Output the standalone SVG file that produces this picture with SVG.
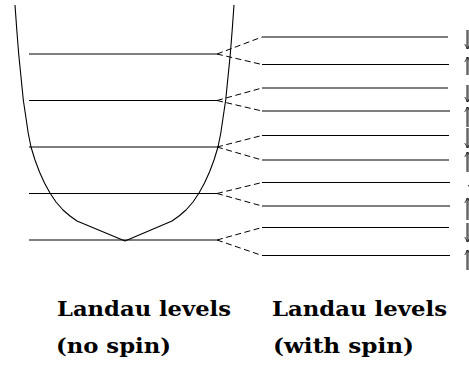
<svg xmlns="http://www.w3.org/2000/svg" width="469" height="366" viewBox="0 0 469 366">
<style>
.lvl{stroke:#000;stroke-width:1.1;fill:none}
.wall{stroke:#000;stroke-width:1.1;fill:none;stroke-linejoin:round}
.dash{stroke:#000;stroke-width:1;stroke-dasharray:6,3.5;fill:none}
.spin{stroke:#666;stroke-width:2.5;fill:none}
.lbl{font-family:"DejaVu Serif","Liberation Serif",serif;font-weight:bold;font-size:21px;fill:#000}
</style>
<defs>
<marker id="ah" viewBox="0 0 10 10" refX="9" refY="5" markerUnits="userSpaceOnUse" markerWidth="6" markerHeight="8" orient="auto">
<path d="M0,0 L9,5 L0,10" fill="none" stroke="#000" stroke-width="1.2"/>
</marker>
</defs>
<rect width="469" height="366" fill="#fff"/>
<g id="potential">
<polyline class="wall" points="15,5 16.8,30 18.7,54 21,77 23.3,100 26,118 28.2,133 31,147 35,160 39.5,172 44.5,183 50,193 56,202 63,210 70,216 77,221 125,241 172,221 179,216 186,210 193,202 199,193 204.5,183 209.5,172 214,160 218,147 220.8,133 223,118 225.7,100 228,77 230.3,54 232.2,30 234,5"/>
</g>
<g id="levels-nospin">
<g id="n0"><line class="lvl" x1="29" y1="240" x2="217" y2="240"/></g>
<g id="n1"><line class="lvl" x1="29" y1="193.5" x2="217" y2="193.5"/></g>
<g id="n2"><line class="lvl" x1="29" y1="147" x2="217" y2="147"/></g>
<g id="n3"><line class="lvl" x1="29" y1="100.5" x2="217" y2="100.5"/></g>
<g id="n4"><line class="lvl" x1="29" y1="54" x2="217" y2="54"/></g>
</g>
<g id="levels-spin">
<g id="s4u"><line class="lvl" x1="262" y1="37" x2="448" y2="37"/></g>
<g id="s4d"><line class="lvl" x1="262" y1="64.5" x2="449" y2="64.5"/></g>
<g id="s3u"><line class="lvl" x1="262" y1="88" x2="448" y2="88"/></g>
<g id="s3d"><line class="lvl" x1="262" y1="111" x2="450" y2="111"/></g>
<g id="s2u"><line class="lvl" x1="262" y1="135.5" x2="449" y2="135.5"/></g>
<g id="s2d"><line class="lvl" x1="262" y1="160" x2="449" y2="160"/></g>
<g id="s1u"><line class="lvl" x1="262" y1="182.5" x2="450" y2="182.5"/></g>
<g id="s1d"><line class="lvl" x1="262" y1="206" x2="450" y2="206"/></g>
<g id="s0u"><line class="lvl" x1="262" y1="227.5" x2="449" y2="227.5"/></g>
<g id="s0d"><line class="lvl" x1="262" y1="255.5" x2="450" y2="255.5"/></g>
</g>
<g id="connectors">
<line class="dash" x1="217" y1="54" x2="262" y2="37"/>
<line class="dash" x1="217" y1="54" x2="262" y2="64.5"/>
<line class="dash" x1="217" y1="100.5" x2="262" y2="88"/>
<line class="dash" x1="217" y1="100.5" x2="262" y2="111"/>
<line class="dash" x1="217" y1="147" x2="262" y2="135.5"/>
<line class="dash" x1="217" y1="147" x2="262" y2="160"/>
<line class="dash" x1="217" y1="193.5" x2="262" y2="182.5"/>
<line class="dash" x1="217" y1="193.5" x2="262" y2="206"/>
<line class="dash" x1="217" y1="240" x2="262" y2="227.5"/>
<line class="dash" x1="217" y1="240" x2="262" y2="255.5"/>
</g>
<g id="spin-arrows">
<line class="spin" x1="467.5" y1="30" x2="467.5" y2="49" marker-end="url(#ah)"/>
<line class="spin" x1="467.5" y1="75" x2="467.5" y2="57" marker-end="url(#ah)"/>
<line class="spin" x1="467.5" y1="85" x2="467.5" y2="102" marker-end="url(#ah)"/>
<line class="spin" x1="467.5" y1="127" x2="467.5" y2="107" marker-end="url(#ah)"/>
<line class="spin" x1="467.5" y1="128" x2="467.5" y2="148" marker-end="url(#ah)"/>
<line class="spin" x1="467.5" y1="172" x2="467.5" y2="152" marker-end="url(#ah)"/>
<line class="spin" x1="471" y1="172" x2="471" y2="190" marker-end="url(#ah)"/>
<line class="spin" x1="467.5" y1="220" x2="467.5" y2="198" marker-end="url(#ah)"/>
<line class="spin" x1="467.5" y1="223" x2="467.5" y2="242" marker-end="url(#ah)"/>
<line class="spin" x1="467.5" y1="270" x2="467.5" y2="250" marker-end="url(#ah)"/>
</g>
<g id="labels">
<text class="lbl" x="57" y="316" textLength="174" lengthAdjust="spacingAndGlyphs">Landau levels</text>
<text class="lbl" x="56" y="353" textLength="115" lengthAdjust="spacingAndGlyphs">(no spin)</text>
<text class="lbl" x="272" y="316" textLength="175" lengthAdjust="spacingAndGlyphs">Landau levels</text>
<text class="lbl" x="273" y="353" textLength="141" lengthAdjust="spacingAndGlyphs">(with spin)</text>
</g>
</svg>
